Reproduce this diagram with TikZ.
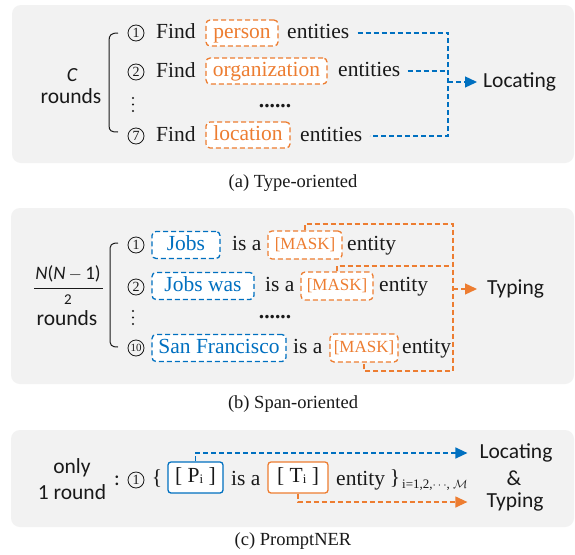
\documentclass[tikz,border=0pt]{standalone}
\usepackage{fontspec}
\setmainfont{Liberation Serif}
\newfontfamily\carl{Carlito}
\usetikzlibrary{arrows.meta}
\definecolor{bl}{RGB}{0,112,192}
\definecolor{orng}{RGB}{237,125,49}
\definecolor{panel}{RGB}{242,242,242}
\definecolor{ink}{RGB}{25,25,25}
\begin{document}
\begin{tikzpicture}[x=1pt,y=-1pt,
  txt/.style={inner sep=0pt, text height=15pt, text depth=4.5pt, font=\rmfamily\fontsize{21.5}{24}\selectfont, text=ink},
  sans/.style={inner sep=0pt, text height=14pt, text depth=4pt, font=\carl\fontsize{21.5}{24}\selectfont, text=ink},
  dsh/.style={dash pattern=on 5pt off 3pt, line width=1.3pt},
  obox/.style={draw=orng, dsh, rounded corners=4pt, fill=white, text=orng, inner xsep=0pt, inner ysep=0pt, text height=15pt, text depth=4.5pt, minimum height=26pt, font=\rmfamily\fontsize{21.5}{24}\selectfont},
  bbox/.style={obox, draw=bl, text=bl, minimum height=27pt},
  mbox/.style={obox, font=\rmfamily\fontsize{17}{20}\selectfont, text height=12pt, text depth=3.5pt, minimum height=28pt},
  sbox/.style={rounded corners=3pt, line width=1.3pt, fill=white, inner sep=0pt, text height=15pt, text depth=4.5pt, minimum height=31pt, font=\rmfamily\fontsize{21.5}{24}\selectfont, text=ink},
  cnum/.style={circle, draw=ink, line width=0.8pt, inner sep=0pt, minimum size=16pt, font=\rmfamily\fontsize{14}{14}\selectfont, text=ink},
  brace/.style={draw=ink, line width=1pt},
  tip/.style={-{Triangle[length=12pt,width=11pt]}},
  caption/.style={inner sep=0pt, font=\rmfamily\fontsize{18.5}{22}\selectfont, text=ink}
]
\useasboundingbox (0,0) rectangle (575,554);
\fill[white] (0,0) rectangle (575,554);

% ---------------- Panel (a)
\fill[panel, rounded corners=9pt] (12,5) rectangle (574,163);
\node[sans, font=\carl\itshape\fontsize{20}{20}\selectfont] (ca) at (72,76) {C};
\node[sans] (ra) at (71,98) {rounds};
\draw[brace] (118,33) .. controls (111,33) and (109,35) .. (109,41) -- (109,125) .. controls (109,131) and (111,132) .. (118,132);

\node[cnum] (a1) at (136,33) {1};
\node[txt, anchor=west] (fa1) at (156,33) {Find};
\node[obox, minimum width=72pt] (pa1) at (242,33) {person};
\node[txt, anchor=west] (ea1) at (287,33) {entities};

\node[cnum] (a2) at (136,72) {2};
\node[txt, anchor=west] (fa2) at (156,72) {Find};
\node[obox, minimum width=121pt] (pa2) at (266.5,71) {organization};
\node[txt, anchor=west] (ea2) at (338,71) {entities};

\fill[ink] (133,98) circle (1.1) (133,104.5) circle (1.1) (133,111) circle (1.1);
\node[txt] (da) at (275,102) {\textbf{......}};

\node[cnum] (a7) at (136,136) {7};
\node[txt, anchor=west] (fa3) at (156,136) {Find};
\node[obox, minimum width=84pt] (pa3) at (248,135) {location};
\node[txt, anchor=west] (ea3) at (300,136) {entities};

\coordinate (ja) at (448,82);
\coordinate (jab) at (448,136);
\draw[draw=bl, dsh] ([xshift=8pt]ea1.east) -| (jab) -- ([xshift=7pt]ea3.east);
\draw[draw=bl, dsh] ([xshift=7pt]ea2.east) -- (ea2.east -| jab);
\node[sans, anchor=west] (loca) at (483,82) {Locating};
\draw[draw=bl, dsh, tip, shorten >=6pt] (ja) -- (loca.west);

\node[caption] (capa) at (293,183) {(a) Type-oriented};

% ---------------- Panel (b)
\fill[panel, rounded corners=9pt] (11,208) rectangle (574,384);
\node[sans, font=\fontsize{19}{19}\selectfont, text height=13pt, text depth=4pt] (num) at (68,275) {{\carl\itshape N}{\carl(}{\carl\itshape N}\,$-$\,{\carl 1)}};
\draw[ink, line width=0.8pt] (34,288) -- (103,288);
\node[sans, font=\carl\fontsize{15}{15}\selectfont, text height=10pt, text depth=0pt] (den) at (68,299) {2};
\node[sans] (rb) at (67,320) {rounds};
\draw[brace] (118,243) .. controls (111,243) and (110,245) .. (110,251) -- (110,339) .. controls (110,345) and (111,347) .. (118,347);

\node[cnum] (b1) at (136,245) {1};
\node[bbox, minimum width=68pt] (sp1) at (186,245) {Jobs};
\node[txt, anchor=west] (isa1) at (232,245) {is a};
\node[mbox, minimum width=74pt] (m1) at (305,245) {[MASK]};
\node[txt, anchor=west] (en1) at (347,245) {entity};

\node[cnum] (b2) at (136,287) {2};
\node[bbox, minimum width=102pt] (sp2) at (203,286) {Jobs was};
\node[txt, anchor=west] (isa2) at (265,286) {is a};
\node[mbox, minimum width=72pt] (m2) at (337,286) {[MASK]};
\node[txt, anchor=west] (en2) at (379,286) {entity};

\fill[ink] (133,311) circle (1.1) (133,317.5) circle (1.1) (133,324) circle (1.1);
\node[txt] (db) at (275,313) {\textbf{......}};

\node[cnum, font=\rmfamily\fontsize{11}{11}\selectfont] (b10) at (136,348) {10};
\node[bbox, minimum width=134pt] (sp3) at (219,348) {San Francisco};
\node[txt, anchor=west] (isa3) at (293,348) {is a};
\node[mbox, minimum width=68pt] (m3) at (364,348) {[MASK]};
\node[txt, anchor=west] (en3) at (402,348) {entity};

\coordinate (tr) at (453,224);
\coordinate (br) at (453,371);
\coordinate (mr) at (453,266);
\coordinate (jb) at (453,289);
\draw[draw=orng, dsh] (m1.north) |- (tr) -- (br) -| (m3.south);
\draw[draw=orng, dsh] (m2.north) |- (mr);
\node[sans, anchor=west] (typb) at (487,289) {Typing};
\draw[draw=orng, dsh, tip, shorten >=10pt] (jb) -- (typb.west);

\node[caption] (capb) at (293,404) {(b) Span-oriented};

% ---------------- Panel (c)
\fill[panel, rounded corners=9pt] (11,430) rectangle (574,527);
\node[sans] (only) at (72,468) {only};
\node[sans] (oner) at (72,494) {1 round};
\node[sans] (colon) at (117,480) {:};
\node[cnum] (c1) at (136,480) {1};
\node[txt] (lbr) at (157,479) {\{};
\node[sbox, draw=bl, minimum width=55pt] (pi) at (195.5,477.5) {[ P\raisebox{-1pt}{\fontsize{13}{13}\selectfont i} ]};
\node[txt, anchor=west] (isac) at (231,480) {is a};
\node[sbox, draw=orng, minimum width=60pt] (ti) at (298,477.5) {[ T\raisebox{-1pt}{\fontsize{13}{13}\selectfont i} ]};
\node[txt, anchor=west] (enc) at (336,480) {entity};
\node[txt] (rbr) at (395,479) {\}};
\node[inner sep=0pt, anchor=base west, font=\rmfamily\fontsize{13}{13}\selectfont, text=ink] (sub) at (402,488) {i=1,2,$\cdots$, $\mathcal{M}$};
\node[sans] (locc) at (516,453) {Locating};
\node[sans] (amp) at (514,480) {\&};
\node[sans] (typc) at (515,502) {Typing};
\draw[draw=bl, dsh, tip, shorten >=12pt] (pi.north) |- (locc.west);
\draw[draw=orng, dsh, tip, shorten >=19pt] (ti.south) |- (typc.west);

\node[caption] (capc) at (293,541) {(c) PromptNER};
\end{tikzpicture}
\end{document}
